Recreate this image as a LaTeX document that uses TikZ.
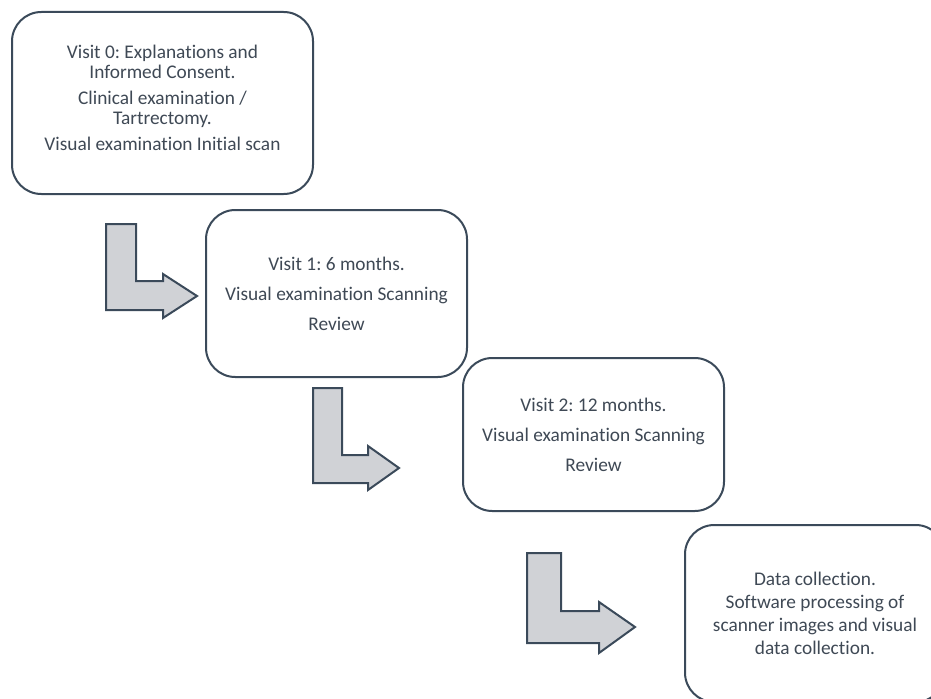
\documentclass[tikz,border=0pt]{standalone}
\usepackage{fontspec}
\setmainfont{Carlito}[Ligatures = NoCommon]
\definecolor{edge}{HTML}{3B4A5A}
\definecolor{ink}{HTML}{3F4955}
\definecolor{shade}{HTML}{D0D2D6}

\begin{document}
\frenchspacing
\begin{tikzpicture}[
    x = 0.75pt, y = -0.75pt,
    stage/.style = {draw = edge, line width = 1.5pt, rounded corners = 22pt,
        fill = white, text = ink, align = center, inner sep = 0pt,
        font = \fontsize{14.5}{15}\selectfont},
    bent/.style = {draw = edge, line width = 1.5pt, fill = shade}]

\clip (0,0) rectangle (931,699);
\fill[white] (0,0) rectangle (931,699);

\node[stage, minimum width = 225.75pt, minimum height = 136.5pt] (visit0) at (162.5,103)
	{Visit 0: Explanations and\\ Informed Consent.\\[4.5pt]
	 Clinical examination /\\ Tartrectomy.\\[4.5pt]
	 Visual examination Initial scan\\[-7.5pt]\mbox{}};
\node[stage, minimum width = 195.75pt, minimum height = 125.25pt] (visit1) at (336.5,293.5)
	{Visit 1: 6 months.\\[7.5pt] Visual examination Scanning\\[7.5pt] Review};
\node[stage, minimum width = 195.75pt, minimum height = 114.75pt] (visit2) at (593.5,434.5)
	{Visit 2: 12 months.\\[7.5pt] Visual examination Scanning\\[7.5pt] Review};
\node[stage, minimum width = 195pt, minimum height = 132.75pt] (data) at (815,613.5)
	{Data collection.\\[2.25pt] Software processing of\\[2.25pt]
	 scanner images and visual\\[2.25pt] data collection.};

\draw[bent] (106,224) -- (136,224) -- (136,281) -- (163,281) -- (163,274) --
	  (197,296) -- (163,318) -- (163,310) -- (106,310) -- cycle;
\draw[bent] (313,388) -- (342,388) -- (342,455) -- (368,455) -- (368,446) --
	  (399,468) -- (368,490) -- (368,483) -- (313,483) -- cycle;
\draw[bent] (527,553) -- (561,553) -- (561,611) -- (599,611) -- (599,602) --
	  (635,627) -- (599,653) -- (599,643) -- (527,643) -- cycle;
\end{tikzpicture}
\end{document}
